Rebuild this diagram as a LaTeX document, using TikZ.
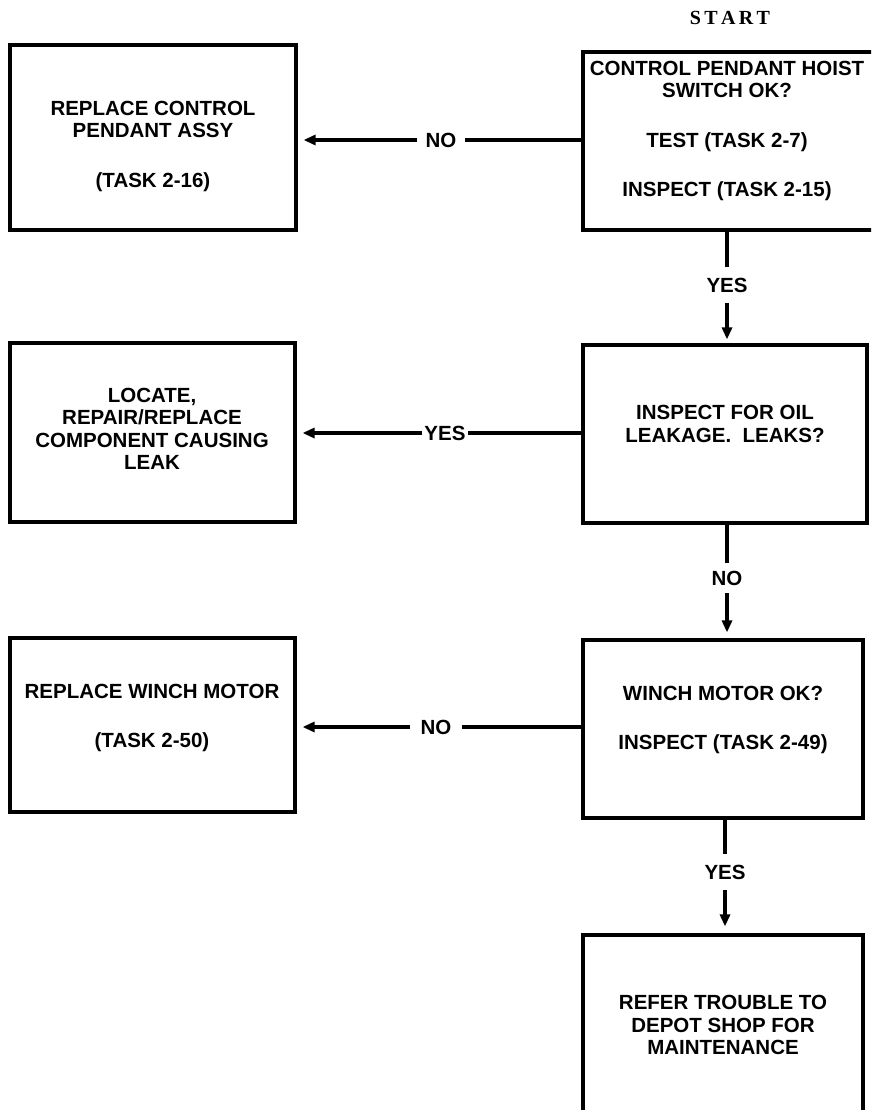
\documentclass[tikz,border=0pt]{standalone}
\usepackage{fontspec}
\setmainfont{Liberation Sans}
\newfontfamily\startfont{Liberation Serif}
\usetikzlibrary{arrows.meta}
\begin{document}
\begin{tikzpicture}[x=1pt,y=-1pt,
  box/.style={draw, line width=3.2pt, inner sep=0pt},
  txt/.style={font=\bfseries\fontsize{20.5}{22.5}\selectfont, align=center, inner sep=0pt},
  lbl/.style={font=\bfseries\fontsize{20.5}{22.5}\selectfont, inner sep=0pt},
  conn/.style={line width=3.2pt},
  arr/.style={line width=3.2pt, -{Triangle[length=12pt,width=10pt]}}]
\useasboundingbox (0,0) rectangle (871,1110);
\clip (0,0) rectangle (871,1110);

% title
\node[inner sep=0pt, font=\startfont\bfseries\fontsize{20}{22}\selectfont] (start) at (730,18) {S\,T\,A\,R\,T};

% boxes
\node[box, minimum width=292pt, minimum height=178pt] (b1) at (729,141) {};
\node[box, minimum width=286pt, minimum height=185pt] (bA) at (153,137.5) {};
\node[box, minimum width=284pt, minimum height=178pt] (b2) at (725,434) {};
\node[box, minimum width=285pt, minimum height=179pt] (bB) at (152.5,432.5) {};
\node[box, minimum width=280pt, minimum height=178pt] (b3) at (723,729) {};
\node[box, minimum width=285pt, minimum height=174pt] (bC) at (152.5,725) {};
\node[box, minimum width=280pt, minimum height=200pt] (b4) at (723,1035) {};

% box texts
\node[txt] (t1) at (727,131) {CONTROL PENDANT HOIST\\SWITCH OK?\\[27pt]TEST (TASK 2-7)\\[27pt]INSPECT (TASK 2-15)};
\node[txt] (tA) at (153,146) {REPLACE CONTROL\\PENDANT ASSY\\[27pt](TASK 2-16)};
\node[txt] (t2) at (725,424) {INSPECT FOR OIL\\LEAKAGE.\ \ LEAKS?};
\node[txt] (tB) at (152,429) {LOCATE,\\REPAIR/REPLACE\\COMPONENT CAUSING\\LEAK};
\node[txt] (t3) at (723,720) {WINCH MOTOR OK?\\[27pt]INSPECT (TASK 2-49)};
\node[txt] (tC) at (152,718) {REPLACE WINCH MOTOR\\[27pt](TASK 2-50)};
\node[txt] (t4) at (723,1025) {REFER TROUBLE TO\\DEPOT SHOP FOR\\MAINTENANCE};

% connector labels
\node[lbl, inner xsep=8pt] (n1) at (441,140) {NO};
\node[lbl, inner xsep=2pt] (n2) at (445,433) {YES};
\node[lbl, inner xsep=10pt] (n3) at (436,727) {NO};
\node[lbl, inner ysep=11pt] (v1) at (727,285) {YES};
\node[lbl, inner ysep=8pt] (v2) at (727,578) {NO};
\node[lbl, inner ysep=11pt] (v3) at (725,872) {YES};

% horizontal connectors
\draw[conn] (b1.west |- n1) -- (n1.east);
\draw[arr, shorten >=6pt] (n1.west) -- (n1.west -| bA.east);
\draw[conn] (b2.west |- n2) -- (n2.east);
\draw[arr, shorten >=6pt] (n2.west) -- (n2.west -| bB.east);
\draw[conn] (b3.west |- n3) -- (n3.east);
\draw[arr, shorten >=6pt] (n3.west) -- (n3.west -| bC.east);

% vertical connectors
\draw[conn] (v1 |- b1.south) -- (v1.north);
\draw[arr, shorten >=4pt] (v1.south) -- (v1 |- b2.north);
\draw[conn] (v2 |- b2.south) -- (v2.north);
\draw[arr, shorten >=6pt] (v2.south) -- (v2 |- b3.north);
\draw[conn] (v3 |- b3.south) -- (v3.north);
\draw[arr, shorten >=7pt] (v3.south) -- (v3 |- b4.north);
\end{tikzpicture}
\end{document}
